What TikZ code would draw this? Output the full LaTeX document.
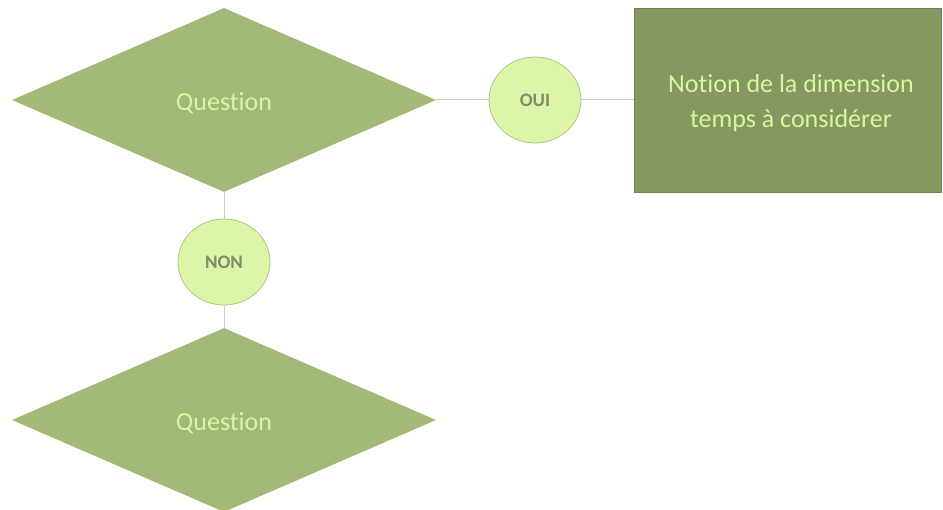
\documentclass[tikz,border=0pt]{standalone}
\usepackage{fontspec}
\setmainfont{Carlito}[RawFeature={-liga}]
\usetikzlibrary{shapes.geometric}
\definecolor{dfill}{HTML}{A2B977}
\definecolor{rfill}{HTML}{84985F}
\definecolor{rborder}{HTML}{6F8050}
\definecolor{cfill}{HTML}{DDF5A8}
\definecolor{cborder}{HTML}{A9C77F}
\definecolor{ltext}{HTML}{D9F5A0}
\definecolor{ctext}{HTML}{7F8B6A}
\definecolor{lline}{HTML}{C8D3B8}
\tikzset{
  decision/.style={diamond, fill=dfill, draw=none, minimum width=424pt, minimum height=184pt, inner sep=0pt, text=ltext, font=\fontsize{26}{30}\selectfont},
  answer/.style={ellipse, fill=cfill, draw=cborder, line width=0.8pt, minimum width=92pt, minimum height=86pt, inner sep=0pt, text=ctext, font=\fontsize{19}{22}\selectfont\bfseries},
  result/.style={rectangle, fill=rfill, draw=rborder, line width=0.8pt, minimum width=307pt, minimum height=184pt, inner sep=0pt, text=ltext, font=\fontsize{26}{35}\selectfont},
  link/.style={draw=lline, line width=1pt}
}
\begin{document}
\begin{tikzpicture}[x=1pt,y=-1pt]
\useasboundingbox (0,0) rectangle (943,510);
\node[decision] (q1) at (224,100) {\raisebox{-3pt}[\height][\depth]{Question}};
\node[decision] (q2) at (224,420) {\raisebox{-3pt}[\height][\depth]{Question}};
\node[answer] (oui) at (535,100) {OUI};
\node[answer] (non) at (224,262) {NON};
\node[result] (res) at (788,100) {\hspace{6pt}\raisebox{-3pt}[\height][\depth]{\begin{tabular}{@{}c@{}}Notion de la dimension\\temps à considérer\end{tabular}}};
\draw[link] (q1.east) -- (oui.west);
\draw[link] (oui.east) -- (res.west);
\draw[link] (q1.south) -- (non.north);
\draw[link] (non.south) -- (q2.north);
\end{tikzpicture}
\end{document}
